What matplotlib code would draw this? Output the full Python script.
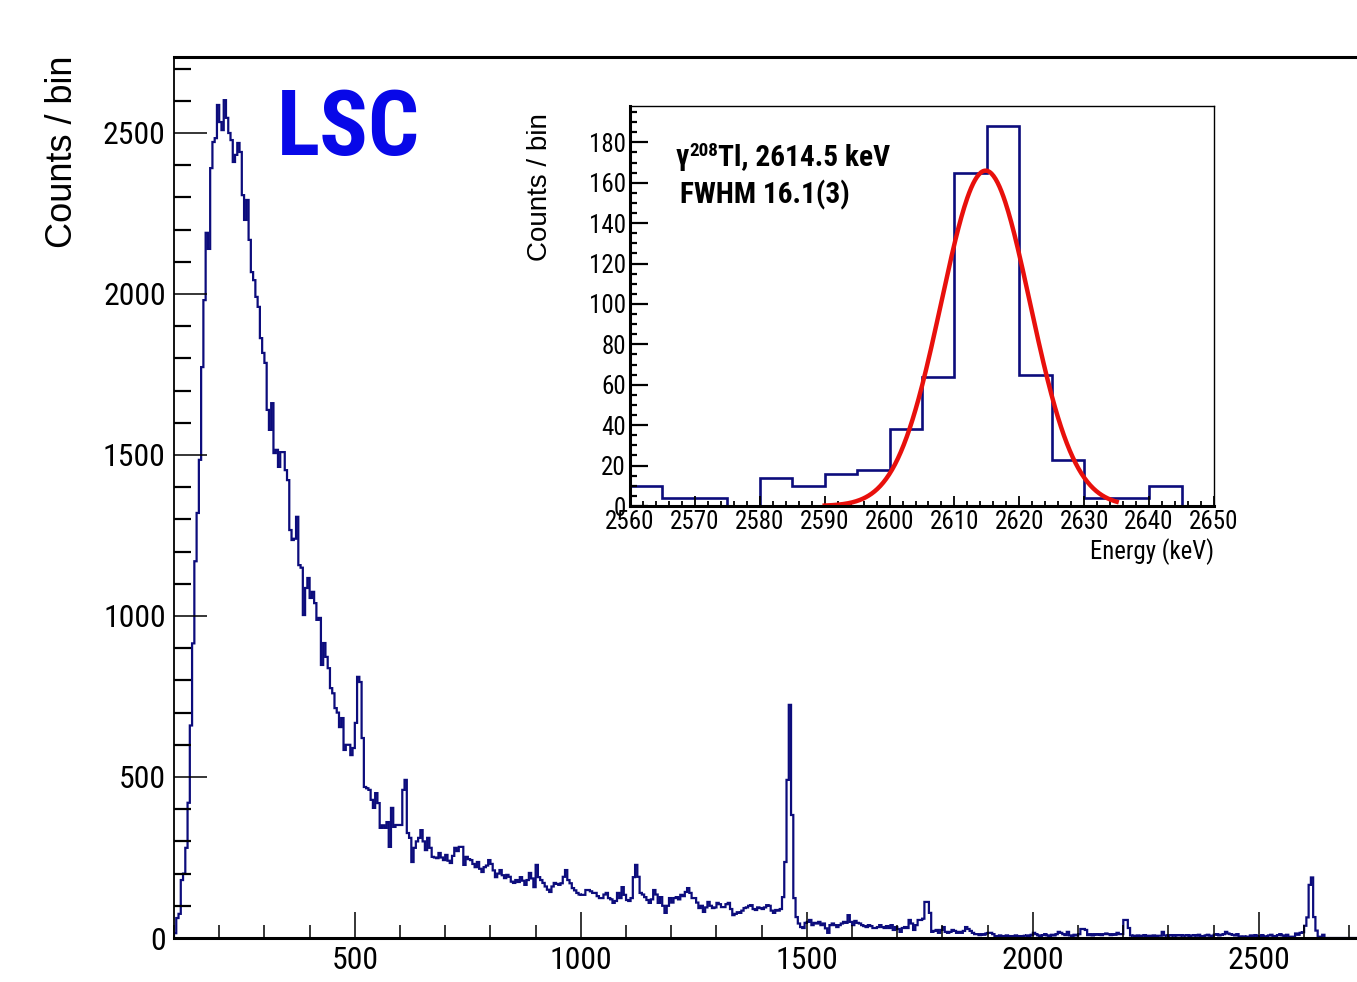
import numpy as np
import matplotlib
matplotlib.use("Agg")
import matplotlib.pyplot as plt
from matplotlib import font_manager
from matplotlib.font_manager import FontProperties
from matplotlib.ticker import MultipleLocator

# energy spectrum, 5 keV bins starting at 100 keV
e_start = 100
bin_w = 5
counts = [
    15, 62, 75, 180, 200, 280, 420, 660, 915, 1170,
    1320, 1485, 1773, 1981, 2190, 2140, 2391, 2472, 2484, 2587,
    2534, 2509, 2602, 2547, 2500, 2478, 2410, 2432, 2469, 2441,
    2307, 2230, 2292, 2168, 2068, 2043, 1991, 1960, 1863, 1817,
    1786, 1640, 1578, 1661, 1506, 1516, 1463, 1509, 1509, 1453,
    1422, 1267, 1236, 1240, 1308, 1158, 1150, 1003, 1087, 1118,
    1056, 1075, 1040, 988, 994, 848, 916, 873, 838, 776,
    760, 714, 700, 655, 683, 584, 600, 600, 568, 590,
    668, 811, 795, 621, 469, 465, 460, 429, 404, 450,
    419, 342, 350, 342, 360, 283, 404, 345, 351, 351,
    351, 460, 491, 326, 311, 236, 280, 300, 311, 335,
    300, 273, 311, 280, 252, 250, 248, 264, 250, 242,
    258, 240, 233, 255, 280, 270, 283, 283, 227, 252,
    245, 242, 230, 220, 236, 215, 205, 220, 225, 242,
    230, 210, 189, 200, 211, 195, 186, 196, 190, 175,
    171, 180, 174, 189, 178, 165, 180, 202, 185, 158,
    227, 189, 180, 171, 160, 150, 143, 160, 171, 168,
    165, 170, 190, 211, 180, 170, 155, 148, 140, 135,
    134, 134, 149, 149, 145, 140, 140, 130, 124, 124,
    135, 140, 124, 120, 109, 115, 140, 124, 158, 134,
    118, 115, 124, 189, 227, 190, 140, 135, 127, 118,
    109, 120, 149, 135, 109, 127, 100, 78, 100, 124,
    110, 124, 127, 120, 134, 130, 143, 155, 140, 124,
    124, 110, 93, 100, 81, 95, 112, 100, 93, 95,
    109, 105, 96, 96, 105, 109, 90, 71, 75, 80,
    78, 85, 93, 95, 100, 102, 90, 87, 95, 93,
    90, 95, 102, 100, 85, 78, 87, 85, 90, 127,
    236, 491, 724, 382, 124, 65, 45, 34, 31, 47,
    50, 56, 40, 47, 45, 50, 40, 45, 30, 16,
    40, 45, 40, 34, 40, 45, 50, 47, 71, 50,
    40, 53, 47, 45, 40, 37, 34, 40, 37, 31,
    31, 34, 40, 34, 31, 37, 31, 40, 25, 34,
    28, 19, 31, 34, 31, 56, 45, 25, 40, 56,
    56, 60, 112, 112, 78, 19, 22, 25, 16, 25,
    34, 19, 16, 19, 25, 22, 16, 19, 16, 22,
    34, 28, 22, 16, 12, 12, 9, 12, 10, 14,
    16, 16, 12, 6, 6, 8, 5, 6, 8, 6,
    5, 6, 8, 6, 6, 5, 7, 8, 6, 10,
    16, 12, 8, 6, 9, 12, 8, 6, 10, 8,
    12, 19, 16, 12, 9, 19, 8, 6, 10, 8,
    12, 28, 28, 25, 9, 12, 8, 12, 10, 12,
    9, 12, 14, 12, 9, 12, 10, 16, 12, 12,
    56, 56, 31, 8, 7, 5, 8, 6, 7, 9,
    6, 7, 5, 8, 6, 7, 7, 19, 8, 7,
    8, 9, 7, 9, 8, 9, 7, 8, 9, 6,
    8, 9, 7, 10, 6, 5, 8, 10, 7, 6,
    10, 12, 8, 10, 12, 19, 14, 12, 10, 8,
    12, 5, 3, 5, 4, 3, 8, 3, 9, 4,
    5, 9, 5, 4, 8, 10, 6, 4, 9, 12,
    8, 6, 10, 4, 4, 0, 14, 10, 16, 18,
    38, 64, 165, 188, 65, 23, 4, 4, 10, 0,
    0, 0, 0, 0, 0, 0, 0, 0, 0, 0,
    0, 0, 0, 0,
]
edges = e_start + bin_w * np.arange(len(counts) + 1)
main_xticks = [500, 1000, 1500, 2000, 2500]
main_yticks = [0, 500, 1000, 1500, 2000, 2500]

# inset: 2560 - 2650 keV window of the same spectrum
inset_lo = 2560
inset_hi = 2650
inset_xticks = [2560, 2570, 2580, 2590, 2600, 2610, 2620, 2630, 2640, 2650]
inset_yticks = [0, 20, 40, 60, 80, 100, 120, 140, 160, 180]
# gaussian fit of the 208Tl line
fit_amp = 166
fit_mean = 2614.8
fit_fwhm = 16.1
fit_range = (2590, 2635)


def find_narrow(bold):
    # look for a condensed / narrow sans face on the system
    prefs = ["Liberation Sans Narrow", "Roboto Condensed", "Noto Sans", "Open Sans",
             "Roboto", "DejaVu Sans"]
    best = None
    for f in font_manager.fontManager.ttflist:
        fn = f.fname.split("/")[-1].lower()
        if not ("narrow" in fn or "condensed" in fn):
            continue
        if any(s in fn for s in ("semi", "extra", "ultra", "italic", "oblique", "light",
                                  "thin", "medium", "black")):
            continue
        if ("bold" in fn) != bold:
            continue
        rank = prefs.index(f.name) if f.name in prefs else len(prefs)
        if best is None or rank < best[0]:
            best = (rank, f.fname)
    return best[1] if best else None


reg_file = find_narrow(False)
bold_file = find_narrow(True)


def fp(bold=False):
    path = bold_file if bold else reg_file
    if path:
        return FontProperties(fname=path)
    return FontProperties(family="Liberation Sans", weight="bold" if bold else "normal")


plt.rcParams["font.family"] = ["Liberation Sans", "DejaVu Sans"]

navy = "#0c0c7c"
W, H = 1357, 982
fig = plt.figure(figsize=(W / 100, H / 100), dpi=100)
renderer = fig.canvas.get_renderer()


def sized(text, width_px, bold=False):
    # font size (pt) giving the text the width it has in the picture
    p = fp(bold)
    p.set_size(100)
    w, h, d = renderer.get_text_width_height_descent(text, p, ismath=False)
    p.set_size(100 * width_px / w)
    return p


# main spectrum
ax = fig.add_axes([174 / W, 1 - 938 / H, 1 - 174 / W, (938 - 57) / H])
ax.stairs(counts, edges, color=navy, lw=1.6)
ax.set_xlim(100, 2717)
ax.set_ylim(0, 2736)
tick_fp = sized("2500", 63)
ax.set_xticks(main_xticks, [str(t) for t in main_xticks], fontproperties=tick_fp)
ax.set_yticks(main_yticks, [str(t) for t in main_yticks], fontproperties=tick_fp)
ax.xaxis.set_minor_locator(MultipleLocator(100))
ax.yaxis.set_minor_locator(MultipleLocator(100))
ax.tick_params(axis="x", which="major", direction="in", length=19, width=1.1, pad=6)
ax.tick_params(axis="x", which="minor", direction="in", length=9.5, width=1.1)
ax.tick_params(axis="y", which="major", direction="in", length=24, width=1.1, pad=6)
ax.tick_params(axis="y", which="minor", direction="in", length=12, width=1.6)
ax.spines["right"].set_visible(False)
ax.spines["top"].set_linewidth(2.2)
ax.spines["bottom"].set_linewidth(2.2)
ax.spines["left"].set_linewidth(1.3)
fig.text(62 / W, 1 - 55 / H, "Counts / bin", rotation=90, ha="center", va="top",
         fontsize=26, family="Liberation Sans")
fig.text(277 / W, 1 - 155 / H, "LSC", color="#0808e8", fontproperties=sized("LSC", 143, True),
         ha="left", va="baseline")

# inset with the 2614.5 keV peak
ax2 = fig.add_axes([630 / W, 1 - 506 / H, 584 / W, 400 / H])
i0 = int((inset_lo - e_start) / bin_w)
i1 = int((inset_hi - e_start) / bin_w)
ax2.stairs(counts[i0:i1], edges[i0:i1 + 1], color=navy, lw=1.9)
sigma = fit_fwhm / 2.3548
xf = np.linspace(fit_range[0], fit_range[1], 300)
ax2.plot(xf, fit_amp * np.exp(-0.5 * ((xf - fit_mean) / sigma) ** 2), color="#e8100c", lw=3.2)
ax2.set_xlim(inset_lo, inset_hi)
ax2.set_ylim(0, 198)
itick_fp = sized("180", 37)
ax2.set_xticks(inset_xticks, [str(t) for t in inset_xticks], fontproperties=itick_fp)
ax2.set_yticks(inset_yticks, [str(t) for t in inset_yticks], fontproperties=itick_fp)
ax2.xaxis.set_minor_locator(MultipleLocator(2))
ax2.yaxis.set_minor_locator(MultipleLocator(5))
ax2.tick_params(axis="x", which="major", direction="in", length=7, width=1.3, pad=3)
ax2.tick_params(axis="x", which="minor", direction="in", length=3.5, width=1.3)
ax2.tick_params(axis="y", which="major", direction="in", length=13, width=1.6, pad=3)
ax2.tick_params(axis="y", which="minor", direction="in", length=5, width=1.6)
ax2.spines["left"].set_linewidth(2.2)
ax2.spines["bottom"].set_linewidth(2.2)
ax2.spines["top"].set_linewidth(1.0)
ax2.spines["right"].set_linewidth(1.0)
fig.text(540 / W, 1 - 113 / H, "Counts / bin", rotation=90, ha="center", va="top",
         fontsize=20, family="Liberation Sans")
fig.text(1214 / W, 1 - 552 / H, "Energy (keV)", ha="right", va="center",
         fontproperties=sized("Energy (keV)", 124))

# gamma label: gamma, raised 208, then the rest of the line
lab_fp = sized("FWHM 16.1(3)", 170, True)
sup_fp = lab_fp.copy()
sup_fp.set_size(lab_fp.get_size() * 0.65)
x0, y0 = 676, 165
t = fig.text(x0 / W, 1 - y0 / H, "\u03b3", ha="left", va="baseline", fontproperties=lab_fp)
bb = t.get_window_extent(renderer)
t = fig.text(bb.x1 / W, 1 - (y0 - 9) / H, "208", ha="left", va="baseline", fontproperties=sup_fp)
bb = t.get_window_extent(renderer)
fig.text(bb.x1 / W, 1 - y0 / H, "Tl, 2614.5 keV", ha="left", va="baseline", fontproperties=lab_fp)
fig.text(680 / W, 1 - 203 / H, "FWHM 16.1(3)", ha="left", va="baseline", fontproperties=lab_fp)

fig.savefig("out.png", dpi=100)
